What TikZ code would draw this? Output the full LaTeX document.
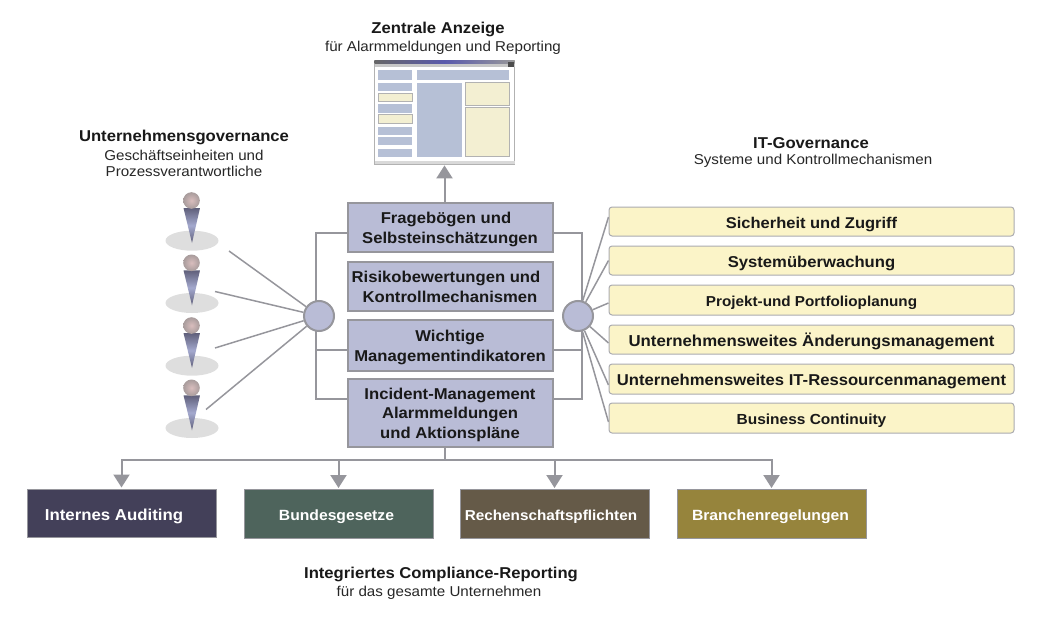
\documentclass[tikz,border=0pt]{standalone}
\usepackage{fontspec}
\setmainfont[FakeStretch=1.06]{Liberation Sans}
\usetikzlibrary{arrows.meta}
\pgfdeclarelayer{lines}
\pgfsetlayers{lines,main}
\definecolor{linegray}{HTML}{96969C}
\definecolor{boxblue}{HTML}{B9BCD6}
\definecolor{panelblue}{HTML}{B6C0D6}
\definecolor{creamy}{HTML}{FBF4C8}
\definecolor{panelyellow}{HTML}{F3EFD2}
\definecolor{regA}{HTML}{434059}
\definecolor{regB}{HTML}{4E645C}
\definecolor{regC}{HTML}{655A48}
\definecolor{regD}{HTML}{96843C}
\definecolor{conedark}{HTML}{5F5F7A}
\definecolor{conelight}{HTML}{A4A9CE}
\definecolor{headin}{HTML}{D9BDBD}
\definecolor{headout}{HTML}{A89C9C}
\newcommand{\fsz}[1]{\fontsize{#1}{18}\selectfont\bfseries}
\newcommand{\stacked}[1]{\raisebox{0pt}[\dimexpr\height+4pt\relax][\depth]{\begin{tabular}{@{}c@{}}#1\end{tabular}}}
\tikzset{
  x=1pt,y=-1pt,
  conn/.style={draw=linegray,line width=2pt},
  thin conn/.style={draw=linegray,line width=1.5pt},
  hair conn/.style={draw=linegray,line width=1.1pt},
  arrowconn/.style={conn,-{Triangle[length=13pt,width=16pt]},shorten >=1pt},
  centerbox/.style={draw=linegray,line width=2pt,fill=boxblue,minimum width=205pt,inner sep=0pt,
    font=\fontsize{15.7}{19.5}\selectfont\bfseries,text=black!90},
  hub/.style={circle,draw=linegray,line width=2pt,fill=boxblue,minimum size=30pt,inner sep=0pt},
  itbox/.style={draw=linegray!80,line width=1pt,fill=creamy,rounded corners=3pt,minimum width=405pt,minimum height=29pt,inner sep=0pt,
    text height=16pt,text depth=2.4pt,text=black!90},
  regbox/.style={draw=linegray,line width=1pt,minimum width=189pt,minimum height=49pt,inner sep=0pt,
    text height=16pt,text depth=2.4pt,text=white},
  title/.style={inner sep=0pt,font=\fontsize{15.7}{18}\selectfont\bfseries,text=black!90},
  sub/.style={inner sep=0pt,align=center,font=\fontsize{14.3}{16}\selectfont,text=black!85},
  panel/.style={fill=panelblue,draw=none},
  ypanel/.style={fill=panelyellow,draw=black!30,line width=1pt},
  shadow ell/.style={fill=black!13,draw=none},
}
\begin{document}
\begin{tikzpicture}
\useasboundingbox (0,0) rectangle (1038,631);
% texts
\node[title] (t1) at (438,29) {Zentrale Anzeige};
\node[sub] (t1s) at (443,48) {für Alarmmeldungen und Reporting};
\node[title] (t2) at (184,137) {Unternehmensgovernance};
\node[sub] (t2s) at (184,163) {Geschäftseinheiten und\\Prozessverantwortliche};
\node[title] (t3) at (811,143) {IT-Governance};
\node[sub] (t3s) at (813,161) {Systeme und Kontrollmechanismen};
\node[title] (t4) at (441,574) {Integriertes Compliance-Reporting};
\node[sub] (t4s) at (439,593) {für das gesamte Unternehmen};
% screen
\node[draw=black!30,line width=0.8pt,fill=white,minimum width=140pt,minimum height=104pt,inner sep=0pt] (screen) at (444.5,112) {};
\fill[black!22] (374.5,60.5) rectangle (514.5,67);
\shade[left color=black!60,right color=black!40,middle color=blue!50!black!65] (374.5,60.5) rectangle (514.5,63.5);
\fill[black!70] (508,62) rectangle (514,67);
\fill[black!15] (374.5,161) rectangle (514.5,164);
\fill[panel] (378,70) rectangle (412,80);
\fill[panel] (378,83) rectangle (412,91);
\filldraw[ypanel] (378,93.5) rectangle (412,102);
\fill[panel] (378,104) rectangle (412,113);
\filldraw[ypanel] (378,115) rectangle (412,123.5);
\fill[panel] (378,127) rectangle (412,135);
\fill[panel] (378,137) rectangle (412,145);
\fill[panel] (378,149) rectangle (412,157);
\fill[panel] (417,70) rectangle (509,80);
\fill[panel] (417,83) rectangle (462,157);
\filldraw[ypanel] (465.5,82.5) rectangle (509.5,105.5);
\filldraw[ypanel] (465.5,107.5) rectangle (509.5,157);
% people
\foreach \py in {0,62.3,125,187.3}{
  \fill[shadow ell] (192,240.7+\py) ellipse [x radius=26.5,y radius=10];
  \shade[top color=conedark,bottom color=conedark,middle color=conelight]
    (183.5,208+\py) -- (200,208+\py) -- (192,243+\py) -- cycle;
  \shade[inner color=headin,outer color=headout] (191.5,200.5+\py) circle [radius=8.3];
}
% central boxes
\node[centerbox,minimum height=49pt] (b1) at (450,227.5) {\stacked{Fragebögen und\hspace*{8pt}\\Selbsteinschätzungen}};
\node[centerbox,minimum height=49pt] (b2) at (450,286.5) {\stacked{Risikobewertungen und\hspace*{8pt}\\Kontrollmechanismen}};
\node[centerbox,minimum height=51pt] (b3) at (450,345.5) {\stacked{Wichtige\\Managementindikatoren}};
\node[centerbox,minimum height=68pt] (b4) at (450,413) {\stacked{Incident-Management\\Alarmmeldungen\\und Aktionspläne}};
% hubs
\node[hub] (lhub) at (319,316) {};
\node[hub] (rhub) at (578,316) {};
% IT boxes
\node[itbox,font=\fsz{15.55}] (i1) at (811.5,221.5) {Sicherheit und Zugriff};
\node[itbox,font=\fsz{15.7}] (i2) at (811.5,260.5) {Systemüberwachung};
\node[itbox,font=\fsz{14.4},minimum height=30pt] (i3) at (811.5,300) {Projekt-und Portfolioplanung};
\node[itbox,font=\fsz{15.85}] (i4) at (811.5,339.5) {Unternehmensweites Änderungsmanagement};
\node[itbox,font=\fsz{15.7},minimum height=30pt] (i5) at (811.5,379) {Unternehmensweites IT-Ressourcenmanagement};
\node[itbox,font=\fsz{14.6},minimum height=30pt] (i6) at (811.5,418) {Business Continuity};
% regulation boxes
\node[regbox,font=\fsz{15.85},fill=regA,minimum height=48pt,text height=17pt] (r1) at (121.5,513) {Internes Auditing\hspace*{15pt}};
\node[regbox,font=\fsz{14.8},fill=regB] (r2) at (338.5,514) {Bundesgesetze\hspace*{4pt}};
\node[regbox,font=\fsz{14.4},fill=regC] (r3) at (554.5,514) {Rechenschaftspflichten\hspace*{7pt}};
\node[regbox,font=\fsz{14.8},fill=regD] (r4) at (771.5,514) {Branchenregelungen\hspace*{2pt}};
% connectors
\coordinate (la) at (316,232.5);
\coordinate (lb) at (316,350);
\coordinate (lc) at (316,399);
\coordinate (ra) at (582,232.5);
\coordinate (rb) at (582,350);
\coordinate (rc) at (582,399);
\coordinate (p1) at (229,251);
\coordinate (p2) at (215,291.5);
\coordinate (p3) at (215,348);
\coordinate (p4) at (206,409.5);
\begin{pgfonlayer}{lines}
\draw[conn] (b1.west |- la) -- (la) -- (lc) -- (b4.west |- lc);
\draw[hair conn] (lb) -- (b3.west |- lb);
\draw[conn] (b1.east |- ra) -- (ra) -- (rc) -- (b4.east |- rc);
\draw[hair conn] (rb) -- (b3.east |- rb);
\foreach \p in {p1,p2,p3,p4}{ \draw[thin conn] (\p) -- (lhub); }
\foreach \i/\dy in {i1/4.5,i2/0,i3/-3,i4/-3.5,i5/-6,i6/-4}{ \draw[thin conn] ([yshift=\dy pt]\i.west) -- (rhub); }
\end{pgfonlayer}
\draw[arrowconn] (b1.north -| screen.south) -- (screen.south);
\foreach \r in {r1,r2,r3,r4}{ \draw[arrowconn] (b4.south -| screen.south) -- ++(0,12) -| (\r.north); }
\end{tikzpicture}
\end{document}
